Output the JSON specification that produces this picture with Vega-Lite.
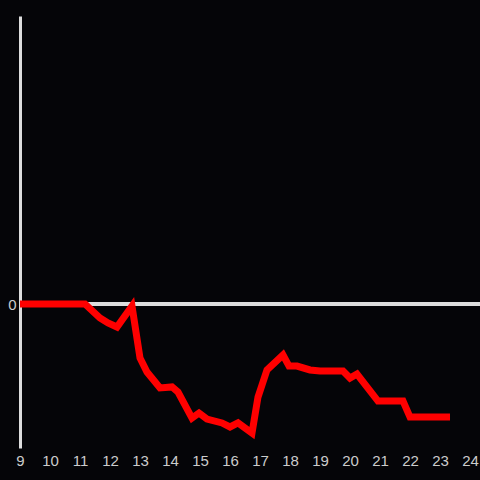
{
  "$schema": "https://vega.github.io/schema/vega-lite/v6.json",
  "width": 460,
  "height": 432,
  "autosize": {"type": "none"},
  "padding": {"left": 20, "top": 16, "right": 0, "bottom": 32},
  "background": "#050508",
  "config": {"view": {"stroke": null}, "axis": {"labelFont": "Liberation Sans", "grid": false}},
  "data": {"values": [
    {"x": 9, "y": 0},
    {"x": 11.167, "y": 0},
    {"x": 11.667, "y": -0.097},
    {"x": 11.933, "y": -0.132},
    {"x": 12.233, "y": -0.160},
    {"x": 12.733, "y": -0.014},
    {"x": 13.0, "y": -0.375},
    {"x": 13.233, "y": -0.472},
    {"x": 13.667, "y": -0.583},
    {"x": 14.067, "y": -0.576},
    {"x": 14.267, "y": -0.611},
    {"x": 14.733, "y": -0.792},
    {"x": 14.967, "y": -0.757},
    {"x": 15.233, "y": -0.799},
    {"x": 15.733, "y": -0.826},
    {"x": 16.0, "y": -0.854},
    {"x": 16.267, "y": -0.826},
    {"x": 16.733, "y": -0.896},
    {"x": 16.933, "y": -0.646},
    {"x": 17.233, "y": -0.458},
    {"x": 17.767, "y": -0.354},
    {"x": 17.967, "y": -0.431},
    {"x": 18.233, "y": -0.431},
    {"x": 18.667, "y": -0.458},
    {"x": 19.0, "y": -0.465},
    {"x": 19.767, "y": -0.465},
    {"x": 20.0, "y": -0.514},
    {"x": 20.233, "y": -0.486},
    {"x": 20.933, "y": -0.674},
    {"x": 21.767, "y": -0.674},
    {"x": 22.0, "y": -0.785},
    {"x": 23.333, "y": -0.785}
  ]},
  "layer": [
    {
      "mark": {"type": "rule", "color": "#dddddd", "strokeWidth": 3},
      "encoding": {"y": {"datum": 0, "type": "quantitative", "scale": {"domain": [-1, 2]}}}
    },
    {
      "mark": {"type": "line", "color": "#ff0000", "strokeWidth": 7, "strokeJoin": "miter", "strokeCap": "butt"},
      "encoding": {
        "x": {"field": "x", "type": "quantitative", "scale": {"domain": [9, 24.333], "nice": false, "zero": false},
          "axis": {"values": [9,10,11,12,13,14,15,16,17,18,19,20,21,22,23,24], "format": "d", "title": null, "domain": false, "ticks": false, "labelPadding": 5, "labelFontSize": 15, "labelColor": "#cccccc", "labelFlush": false}},
        "y": {"field": "y", "type": "quantitative", "scale": {"domain": [-1, 2], "nice": false},
          "axis": {"values": [0], "format": "d", "title": null, "domain": true, "domainColor": "#dddddd", "domainWidth": 3, "ticks": false, "labelPadding": 4, "labelFontSize": 15, "labelColor": "#cccccc"}}
      }
    }
  ]
}
